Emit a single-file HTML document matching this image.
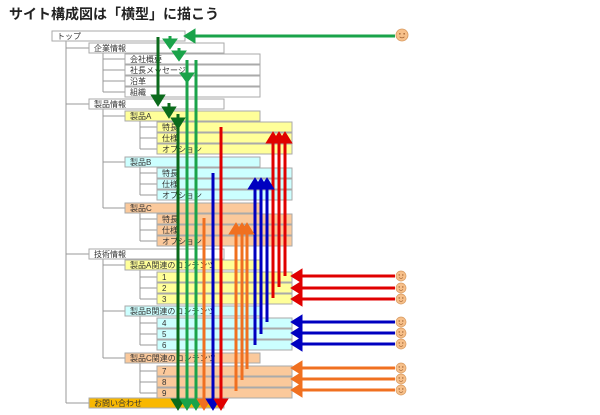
<!DOCTYPE html>
<html><head><meta charset="utf-8"><style>
body{margin:0;background:#fff;width:600px;height:415px;overflow:hidden}
svg{display:block}
text{font-family:"Liberation Sans","Noto Sans CJK JP",sans-serif;font-size:8px;fill:#333}
</style></head><body>
<svg width="600" height="415" viewBox="0 0 600 415">
<defs>
<g id="sm"><circle r="5" fill="#f7c08a" stroke="#d89a60" stroke-width="0.7"/><circle cx="-1.8" cy="-1" r="0.7" fill="#a06030"/><circle cx="1.8" cy="-1" r="0.7" fill="#a06030"/><path d="M-2 1.5Q0 3.3 2 1.5" stroke="#a06030" stroke-width="0.6" fill="none"/></g>
</defs>
<text x="9" y="19" style="font-size:14px;font-weight:bold;fill:#222">サイト構成図は「横型」に描こう</text>
<g stroke="#999" stroke-width="1" fill="none">
<path d="M66 41V403M66 48H89M66 104H89M66 254H89M66 403H89"/>
<path d="M103 53V92M103 59H125M103 70H125M103 81H125M103 92H125"/>
<path d="M103 109V208M103 116H125M103 162H125M103 208H125"/>
<path d="M103 259V358M103 265H125M103 311H125M103 358H125"/>
<path d="M140 121V149M140 127H157M140 138H157M140 149H157"/>
<path d="M140 167V195M140 173H157M140 184H157M140 195H157"/>
<path d="M140 213V241M140 219H157M140 230H157M140 241H157"/>
<path d="M140 270V299M140 277H157M140 288H157M140 299H157"/>
<path d="M140 316V345M140 323H157M140 334H157M140 345H157"/>
<path d="M140 363V393M140 371H157M140 382H157M140 393H157"/>
</g>
<g stroke="#aaa" stroke-width="1">
<rect x="52" y="31" width="133" height="10" fill="#fff"/>
<rect x="89" y="43" width="135" height="10" fill="#fff"/>
<rect x="125" y="54" width="135" height="10" fill="#fff"/>
<rect x="125" y="65" width="135" height="10" fill="#fff"/>
<rect x="125" y="76" width="135" height="10" fill="#fff"/>
<rect x="125" y="87" width="135" height="10" fill="#fff"/>
<rect x="89" y="99" width="135" height="10" fill="#fff"/>
<rect x="125" y="111" width="135" height="10" fill="#ffff99"/>
<rect x="157" y="122" width="135" height="10" fill="#ffff99"/>
<rect x="157" y="133" width="135" height="10" fill="#ffff99"/>
<rect x="157" y="144" width="135" height="10" fill="#ffff99"/>
<rect x="125" y="157" width="135" height="10" fill="#ccffff"/>
<rect x="157" y="168" width="135" height="10" fill="#ccffff"/>
<rect x="157" y="179" width="135" height="10" fill="#ccffff"/>
<rect x="157" y="190" width="135" height="10" fill="#ccffff"/>
<rect x="125" y="203" width="135" height="10" fill="#fbc99b"/>
<rect x="157" y="214" width="135" height="10" fill="#fbc99b"/>
<rect x="157" y="225" width="135" height="10" fill="#fbc99b"/>
<rect x="157" y="236" width="135" height="10" fill="#fbc99b"/>
<rect x="89" y="249" width="135" height="10" fill="#fff"/>
<rect x="125" y="260" width="135" height="10" fill="#ffff99"/>
<rect x="157" y="272" width="135" height="10" fill="#ffff99"/>
<rect x="157" y="283" width="135" height="10" fill="#ffff99"/>
<rect x="157" y="294" width="135" height="10" fill="#ffff99"/>
<rect x="125" y="306" width="135" height="10" fill="#ccffff"/>
<rect x="157" y="318" width="135" height="10" fill="#ccffff"/>
<rect x="157" y="329" width="135" height="10" fill="#ccffff"/>
<rect x="157" y="340" width="135" height="10" fill="#ccffff"/>
<rect x="125" y="353" width="135" height="10" fill="#fbc99b"/>
<rect x="157" y="366" width="135" height="10" fill="#fbc99b"/>
<rect x="157" y="377" width="135" height="10" fill="#fbc99b"/>
<rect x="157" y="388" width="135" height="10" fill="#fbc99b"/>
<rect x="89" y="398" width="135" height="10" fill="#f9b800"/>
</g>
<g>
<text x="57" y="39">トップ</text>
<text x="94" y="51">企業情報</text>
<text x="130" y="62">会社概要</text>
<text x="130" y="73">社長メッセージ</text>
<text x="130" y="84">沿革</text>
<text x="130" y="95">組織</text>
<text x="94" y="107">製品情報</text>
<text x="130" y="119">製品A</text>
<text x="162" y="130">特長</text><text x="162" y="141">仕様</text><text x="162" y="152">オプション</text>
<text x="130" y="165">製品B</text>
<text x="162" y="176">特長</text><text x="162" y="187">仕様</text><text x="162" y="198">オプション</text>
<text x="130" y="211">製品C</text>
<text x="162" y="222">特長</text><text x="162" y="233">仕様</text><text x="162" y="244">オプション</text>
<text x="94" y="257">技術情報</text>
<text x="130" y="268">製品A関連のコンテンツ</text>
<text x="162" y="280">1</text><text x="162" y="291">2</text><text x="162" y="302">3</text>
<text x="130" y="314">製品B関連のコンテンツ</text>
<text x="162" y="326">4</text><text x="162" y="337">5</text><text x="162" y="348">6</text>
<text x="130" y="361">製品C関連のコンテンツ</text>
<text x="162" y="374">7</text><text x="162" y="385">8</text><text x="162" y="396">9</text>
<text x="94" y="406">お問い合わせ</text>
</g>
<g stroke-width="3">
<g stroke="#0b6b1c" fill="#0b6b1c">
<path d="M158 37V96"/><polygon points="153,96 163,96 158,104"/>
<path d="M169 103V108"/><polygon points="164,108 174,108 169,116"/>
<path d="M178 114V400"/><polygon points="173,119 183,119 178,127"/><polygon points="173,400 183,400 178,408"/>
</g>
<g stroke="#1aa34a" fill="#1aa34a">
<path d="M170 36V40"/><polygon points="165,40 175,40 170,47"/>
<path d="M179 48V52"/><polygon points="174,52 184,52 179,59"/>
<path d="M187 60V400"/><polygon points="182,74 192,74 187,81"/><polygon points="182,400 192,400 187,408"/>
<path d="M196 60V400"/><polygon points="191,400 201,400 196,408"/>
<path d="M395 36H192"/><polygon points="194,31 194,41 186,36"/>
</g>
<g stroke="#f07020" fill="#f07020"><path d="M204 218V400"/><polygon points="199,400 209,400 204,408"/></g>
<g stroke="#0000c0" fill="#0000c0"><path d="M213 173V400"/><polygon points="208,400 218,400 213,408"/></g>
<g stroke="#e00000" fill="#e00000"><path d="M221 127V400"/><polygon points="216,400 226,400 221,408"/></g>
<g stroke="#e00000" fill="#e00000">
<path d="M273 298V140M279 287V140M285 276V140"/>
<polygon points="268,142 278,142 273,134"/><polygon points="274,142 284,142 279,134"/><polygon points="280,142 290,142 285,134"/>
<path d="M395 276H300M395 288H300M395 299H300"/>
<polygon points="301,271 301,281 293,276"/><polygon points="301,283 301,293 293,288"/><polygon points="301,294 301,304 293,299"/>
</g>
<g stroke="#0000c0" fill="#0000c0">
<path d="M255 345V186M261 334V186M267 322V186"/>
<polygon points="250,188 260,188 255,180"/><polygon points="256,188 266,188 261,180"/><polygon points="262,188 272,188 267,180"/>
<path d="M395 322H300M395 333H300M395 344H300"/>
<polygon points="301,317 301,327 293,322"/><polygon points="301,328 301,338 293,333"/><polygon points="301,339 301,349 293,344"/>
</g>
<g stroke="#f07020" fill="#f07020">
<path d="M236 391V231M242 380V231M247 369V231"/>
<polygon points="231,233 241,233 236,225"/><polygon points="237,233 247,233 242,225"/><polygon points="242,233 252,233 247,225"/>
<path d="M395 368H300M395 379H300M395 390H300"/>
<polygon points="301,363 301,373 293,368"/><polygon points="301,374 301,384 293,379"/><polygon points="301,385 301,395 293,390"/>
</g>
</g>
<use href="#sm" transform="translate(402 35) scale(1.2)"/>
<use href="#sm" x="401" y="276"/><use href="#sm" x="401" y="288"/><use href="#sm" x="401" y="299"/>
<use href="#sm" x="401" y="322"/><use href="#sm" x="401" y="333"/><use href="#sm" x="401" y="344"/>
<use href="#sm" x="401" y="368"/><use href="#sm" x="401" y="379"/><use href="#sm" x="401" y="390"/>
</svg>
</body></html>
